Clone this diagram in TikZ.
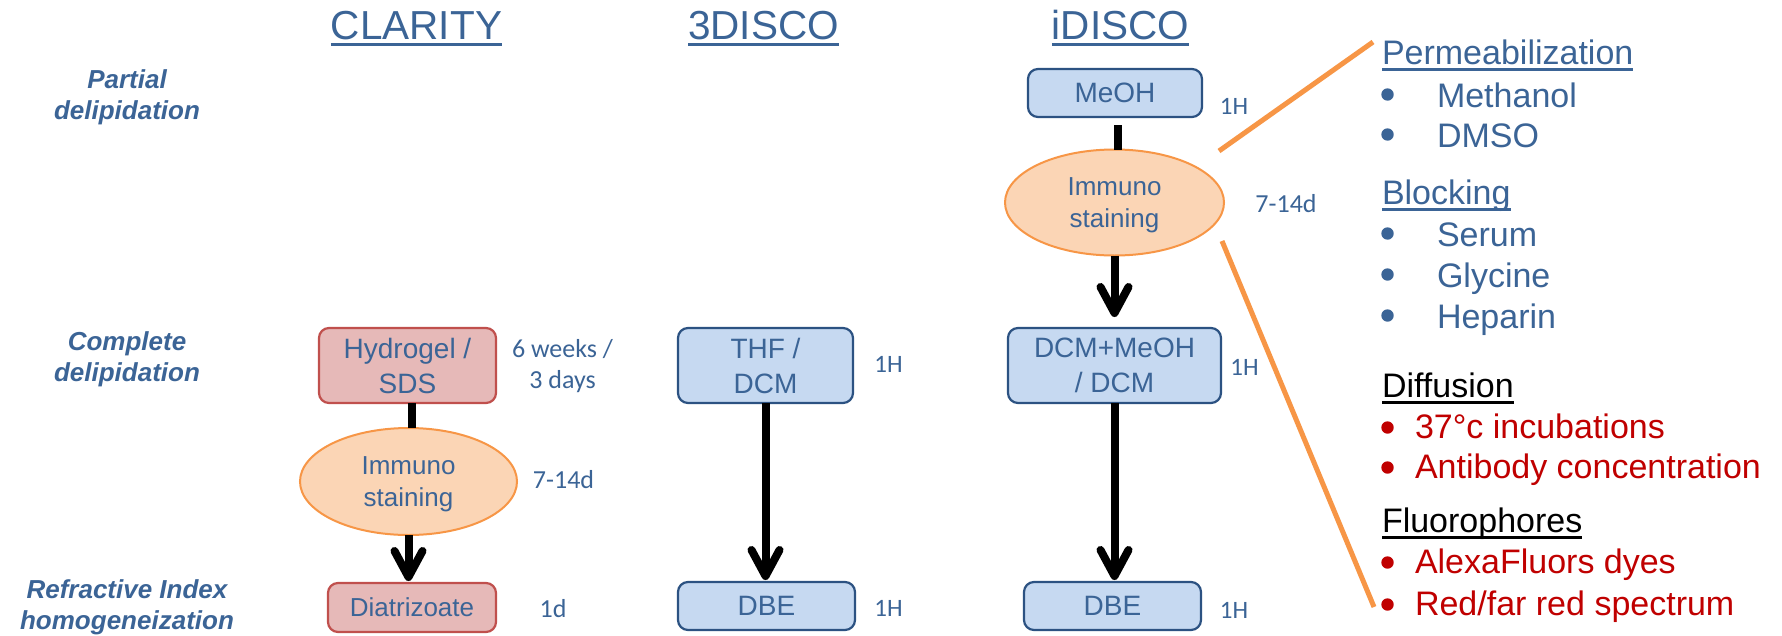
\documentclass[tikz,border=0pt]{standalone}
\usepackage{fontspec}
\setmainfont{Liberation Sans}
\newfontfamily\durfont{Carlito}
\usetikzlibrary{arrows.meta,shapes.geometric}

\definecolor{inkblue}{HTML}{3B6496}
\definecolor{stepfill}{HTML}{C6D9F1}
\definecolor{stepline}{HTML}{2C5282}
\definecolor{clarfill}{HTML}{E6B9B8}
\definecolor{clarline}{HTML}{C0504D}
\definecolor{immfill}{HTML}{FBD5B5}
\definecolor{immline}{HTML}{F79646}
\definecolor{calloutline}{HTML}{F79646}
\definecolor{notered}{HTML}{C00000}

\tikzset{
  txt/.style={inner sep=0pt, outer sep=0pt},
  colhead/.style={txt, anchor=base, text=inkblue, font=\fontsize{40.5}{48}\selectfont},
  rowlabel/.style={txt, align=center, text=inkblue, font=\bfseries\itshape\fontsize{26}{31}\selectfont},
  bluebox/.style={draw=stepline, fill=stepfill, line width=2.2pt, rounded corners=10pt,
    inner sep=0pt, outer sep=0pt, text=inkblue, align=center, font=\fontsize{28}{35}\selectfont},
  pinkbox/.style={bluebox, draw=clarline, fill=clarfill},
  immuno/.style={ellipse, draw=immline, fill=immfill, line width=2pt, inner sep=0pt, outer sep=0pt,
    text=inkblue, align=center, font=\fontsize{26}{32}\selectfont,
    minimum width=217pt, minimum height=107pt},
  duration/.style={txt, anchor=base, text=inkblue, font=\durfont\fontsize{25}{31}\selectfont},
  durlarge/.style={duration, font=\durfont\fontsize{26}{31}\selectfont},
  flow/.style={line width=8pt},
  flowarrow/.style={flow, -{Straight Barb[length=26pt, width=28pt, round]}},
  callout/.style={draw=calloutline, line width=5pt},
  panel/.style={txt, anchor=base west, font=\fontsize{34}{40}\selectfont},
}

\begin{document}
\begin{tikzpicture}[x=1pt, y=-1pt]
\fill[white] (0,0) rectangle (1782,635);
\useasboundingbox (0,0) rectangle (1782,635);

% column headings
\node[colhead] (hClarity) at (416.5,39) {CLARITY};
\node[colhead] (hThreeDisco) at (763.5,39) {3DISCO};
\node[colhead] (hIDisco) at (1120.5,39) {iDISCO};
\foreach \h in {hClarity,hThreeDisco,hIDisco}
  \draw[inkblue, line width=3pt] ([yshift=-5pt]\h.base west) -- ([yshift=-5pt]\h.base east);

% row labels
\node[rowlabel] (rPartial) at (127,94.2) {Partial\\\smash{delipidation}};
\node[rowlabel] (rComplete) at (127,356.2) {Complete\\\smash{delipidation}};
\node[rowlabel] (rRefractive) at (127,604.2) {Refractive Index\\\smash{homogeneization}};

% CLARITY column
\node[pinkbox, minimum width=177pt, minimum height=75pt] (hydrogel) at (407.5,365.5) {Hydrogel /\\\smash{SDS}};
\node[immuno] (stainC) at (408.5,481.5) {Immuno\\\smash{staining}};
\node[pinkbox, minimum width=168pt, minimum height=49pt, font=\fontsize{26}{32}\selectfont] (diatri) at (412,607.5) {Diatrizoate};

% 3DISCO column
\node[bluebox, minimum width=175pt, minimum height=75pt] (thf) at (765.5,365.5) {THF /\\\smash{DCM}};
\node[bluebox, minimum width=177pt, minimum height=48pt] (dbeA) at (766.5,606) {DBE};

% iDISCO column
\node[bluebox, minimum width=174pt, minimum height=48pt] (meoh) at (1115,93) {MeOH};
\node[immuno, minimum width=219pt, minimum height=106pt] (stainI) at (1114.5,202.5) {Immuno\\\smash{staining}};
\node[bluebox, minimum width=213pt, minimum height=75pt] (dcm) at (1114.5,365.5) {DCM+MeOH\\\smash{/ DCM}};
\node[bluebox, minimum width=177pt, minimum height=48pt] (dbeB) at (1112.5,606) {DBE};

% durations
\node[durlarge, align=center, anchor=center] (dHydrogel) at (562.5,364.4) {6 weeks /\\\smash{3 days}};
\node[durlarge] (dStainC) at (563.5,488) {7-14d};
\node[durlarge] (dDiatri) at (553,617) {1d};
\node[duration] (dThf) at (888.5,372) {1H};
\node[duration] (dDbeA) at (888.5,616) {1H};
\node[duration] (dMeoh) at (1234,114) {1H};
\node[durlarge] (dStainI) at (1286,212) {7-14d};
\node[duration] (dDcm) at (1244.5,375) {1H};
\node[duration] (dDbeB) at (1234,618) {1H};

% process flow
\coordinate (hydOut) at ([xshift=4pt]hydrogel.south);
\draw[flow] (hydOut) -- (hydOut |- stainC.north);
\draw[flowarrow, shorten >=2pt] (stainC.south) -- (stainC.south |- diatri.north);
\draw[flowarrow, shorten >=2pt] (thf.south) -- (thf.south |- dbeA.north);
\coordinate (meohOut) at ([xshift=3pt]meoh.south);
\draw[flow, shorten <=8pt] (meohOut) -- (meohOut |- stainI.north);
\draw[flowarrow, shorten >=11pt] (stainI.south) -- (stainI.south |- dcm.north);
\draw[flowarrow, shorten >=2pt] (dcm.south) -- (dcm.south |- dbeB.north);

% callout from the iDISCO staining step
\coordinate (calloutTopIn) at (1219,151);
\coordinate (calloutTopOut) at (1373,42);
\coordinate (calloutLowIn) at (1222,241);
\coordinate (calloutLowOut) at (1374,607);
\draw[callout] (calloutTopIn) -- (calloutTopOut);
\draw[callout] (calloutLowIn) -- (calloutLowOut);

% staining parameters
\node[panel, text=inkblue] (pPerm) at (1382,64) {Permeabilization};
\node[panel, text=inkblue] (pMethanol) at (1437,107) {Methanol};
\node[panel, text=inkblue] (pDmso) at (1437,147) {DMSO};
\node[panel, text=inkblue] (pBlock) at (1382,204) {Blocking};
\node[panel, text=inkblue] (pSerum) at (1437,246) {Serum};
\node[panel, text=inkblue] (pGlycine) at (1437,287) {Glycine};
\node[panel, text=inkblue] (pHeparin) at (1437,328) {Heparin};
\node[panel, text=black] (pDiff) at (1382,397) {Diffusion};
\node[panel, text=notered] (pTemp) at (1415,438) {37°c incubations};
\node[panel, text=notered] (pConc) at (1415,478) {Antibody concentration};
\node[panel, text=black] (pFluo) at (1382,532) {Fluorophores};
\node[panel, text=notered] (pAlexa) at (1415,573) {AlexaFluors dyes};
\node[panel, text=notered] (pRed) at (1415,615) {Red/far red spectrum};

\foreach \h/\c in {pPerm/inkblue, pBlock/inkblue, pDiff/black, pFluo/black}
  \draw[\c, line width=2.6pt] ([yshift=-5.5pt]\h.base west) -- ([yshift=-5.5pt]\h.base east);

% list bullets
\foreach \y in {107,147,246,287,328}
  \fill[inkblue] (1387.5,\y-12.5) circle[radius=6.2pt];
\foreach \y in {438,478,573,615}
  \fill[notered] (1387.5,\y-10.5) circle[radius=6.2pt];
\end{tikzpicture}
\end{document}
